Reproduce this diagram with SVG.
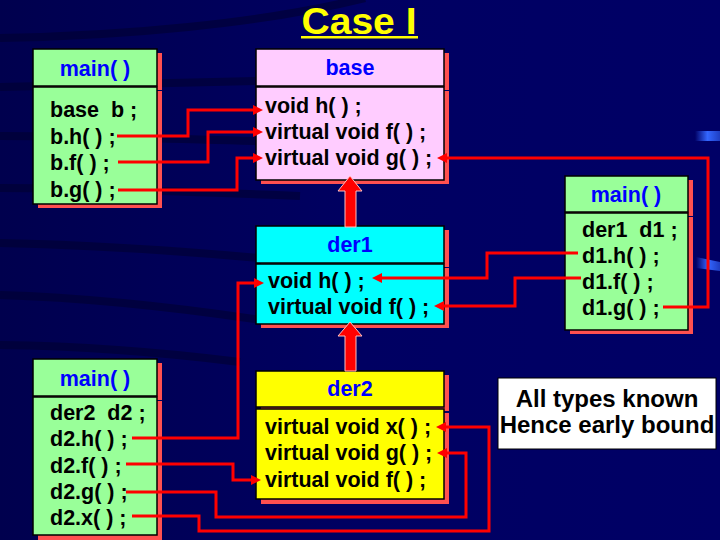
<svg xmlns="http://www.w3.org/2000/svg" width="720" height="540" viewBox="0 0 720 540">
<defs>
<linearGradient id="bg" x1="0" y1="0" x2="1" y2="0">
<stop offset="0" stop-color="#00004e"/>
<stop offset="0.5" stop-color="#000062"/>
<stop offset="1" stop-color="#000066"/>
</linearGradient>
<linearGradient id="glow" x1="0" y1="0" x2="1" y2="0">
<stop offset="0" stop-color="#3366ff" stop-opacity="0"/>
<stop offset="0.5" stop-color="#3366ff"/>
<stop offset="1" stop-color="#3366ff" stop-opacity="0.6"/>
</linearGradient>
<marker id="ah" markerUnits="userSpaceOnUse" markerWidth="12" markerHeight="12" refX="4" refY="5" orient="auto">
<path d="M0,0 L10,5 L0,10 z" fill="#ff0000"/>
</marker>
<style>
.sh{fill:#ff5050}
.bx{stroke:#000;stroke-width:1.5}
.g{fill:#99ff99}
.p{fill:#ffccff}
.c{fill:#00ffff}
.y{fill:#ffff00}
.hd{font-family:"Liberation Sans",Arial,sans-serif;font-weight:bold;font-size:21.5px;fill:#0000ff;text-anchor:middle}
.cd{font-family:"Liberation Sans",Arial,sans-serif;font-weight:bold;font-size:21.5px;fill:#000}
.cn{fill:none;stroke:#ff0000;stroke-width:3;marker-end:url(#ah)}
.inh{fill:#ff0000;stroke:#ffc0c0;stroke-width:1}
.band{fill:none;stroke:#000030;stroke-width:8;opacity:0.6}
</style>
</defs>
<rect x="0" y="0" width="720" height="540" fill="url(#bg)"/>
<g id="background">
<path class="band" d="M0,38 C120,36 260,24 365,-2"/>
<path class="band" d="M0,87 C120,85 220,82 300,80"/>
<path class="band" d="M0,136 C100,136 200,140 300,142"/>
<path class="band" d="M0,188 C100,188 200,192 300,196"/>
<path class="band" d="M0,243 C100,245 200,252 300,262"/>
<path class="band" d="M0,295 C100,298 200,310 300,326"/>
<path class="band" d="M0,345 C80,346 160,352 240,362"/>
<rect x="695" y="131" width="25" height="10" fill="url(#glow)"/>
<path d="M696,257 L720,262 L720,271 L696,268 z" fill="url(#glow)"/>
</g>
<g id="title">
<text x="359" y="34" font-family="'Liberation Sans',Arial,sans-serif" font-weight="bold" font-size="37" fill="#ffff00" text-anchor="middle" textLength="115" lengthAdjust="spacingAndGlyphs">Case I</text>
<rect x="301" y="36" width="117" height="2.5" fill="#ffff00"/>
</g>
<g id="main1">
<rect class="sh" x="38" y="53" width="124" height="37"/>
<rect class="sh" x="38" y="91" width="124" height="117"/>
<rect class="bx g" x="33" y="49" width="124" height="37"/>
<rect class="bx g" x="33" y="87" width="124" height="117"/>
<text class="hd" x="95" y="76">main( )</text>
<text class="cd" x="50" y="117" xml:space="preserve">base  b ;</text>
<text class="cd" x="50" y="143.5">b.h( ) ;</text>
<text class="cd" x="50" y="170">b.f( ) ;</text>
<text class="cd" x="50" y="196.5">b.g( ) ;</text>
</g>
<g id="base">
<rect class="sh" x="261" y="53" width="188" height="37"/>
<rect class="sh" x="261" y="91" width="188" height="93"/>
<rect class="bx p" x="256" y="49" width="188" height="37"/>
<rect class="bx p" x="256" y="87" width="188" height="93"/>
<text class="hd" x="350" y="75">base</text>
<text class="cd" x="265" y="113">void h( ) ;</text>
<text class="cd" x="265" y="139">virtual void f( ) ;</text>
<text class="cd" x="265" y="165">virtual void g( ) ;</text>
</g>
<g id="der1">
<rect class="sh" x="261" y="230" width="188" height="37"/>
<rect class="sh" x="261" y="268" width="188" height="60"/>
<rect class="bx c" x="256" y="226" width="188" height="37"/>
<rect class="bx c" x="256" y="264" width="188" height="60"/>
<text class="hd" x="350" y="252">der1</text>
<text class="cd" x="268" y="288">void h( ) ;</text>
<text class="cd" x="268" y="314">virtual void f( ) ;</text>
</g>
<g id="main2">
<rect class="sh" x="570" y="180" width="123" height="36"/>
<rect class="sh" x="570" y="217" width="123" height="117"/>
<rect class="bx g" x="565" y="176" width="123" height="36"/>
<rect class="bx g" x="565" y="213" width="123" height="117"/>
<text class="hd" x="626" y="202">main( )</text>
<text class="cd" x="582" y="237" xml:space="preserve">der1  d1 ;</text>
<text class="cd" x="582" y="263">d1.h( ) ;</text>
<text class="cd" x="582" y="289">d1.f( ) ;</text>
<text class="cd" x="582" y="315">d1.g( ) ;</text>
</g>
<g id="main3">
<rect class="sh" x="38" y="363" width="124" height="37"/>
<rect class="sh" x="38" y="401" width="124" height="142"/>
<rect class="bx g" x="33" y="359" width="124" height="37"/>
<rect class="bx g" x="33" y="397" width="124" height="138"/>
<text class="hd" x="95" y="386">main( )</text>
<text class="cd" x="50" y="420" xml:space="preserve">der2  d2 ;</text>
<text class="cd" x="50" y="446">d2.h( ) ;</text>
<text class="cd" x="50" y="473">d2.f( ) ;</text>
<text class="cd" x="50" y="499">d2.g( ) ;</text>
<text class="cd" x="50" y="525">d2.x( ) ;</text>
</g>
<g id="der2">
<rect class="sh" x="261" y="375" width="188" height="36"/>
<rect class="sh" x="261" y="413" width="188" height="91"/>
<rect class="bx y" x="256" y="371" width="188" height="36"/>
<rect class="bx y" x="256" y="409" width="188" height="90"/>
<text class="hd" x="350" y="396">der2</text>
<text class="cd" x="265" y="434">virtual void x( ) ;</text>
<text class="cd" x="265" y="460">virtual void g( ) ;</text>
<text class="cd" x="265" y="487">virtual void f( ) ;</text>
</g>
<g id="note">
<rect x="498" y="378" width="218" height="71" fill="#ffffff" stroke="#000" stroke-width="1"/>
<text x="607" y="407" font-family="'Liberation Sans',Arial,sans-serif" font-weight="bold" font-size="24" fill="#000" text-anchor="middle">All types known</text>
<text x="607" y="433" font-family="'Liberation Sans',Arial,sans-serif" font-weight="bold" font-size="24" fill="#000" text-anchor="middle">Hence early bound</text>
</g>
<g id="connectors">
<path class="cn" d="M117,136 H188 V110 H257"/>
<path class="cn" d="M118,162 H208 V132 H257"/>
<path class="cn" d="M118,190 H237 V158 H257"/>
<path class="cn" d="M578,253 H487 V278 H378"/>
<path class="cn" d="M581,278 H515 V306 H440"/>
<path class="cn" d="M663,307 H708 V158 H443"/>
<path class="cn" d="M132,438 H238 V283 H258"/>
<path class="cn" d="M126,464 H233 V480 H255"/>
<path class="cn" d="M126,492 H216 V517 H466 V453 H443"/>
<path class="cn" d="M132,516 H199 V531 H489 V427 H442"/>
<polygon class="inh" points="345,227 345,191 338,191 350,176 362,191 356,191 356,227"/>
<polygon class="inh" points="345,371 345,336 338,336 350,322 362,336 356,336 356,371"/>
</g>
</svg>
